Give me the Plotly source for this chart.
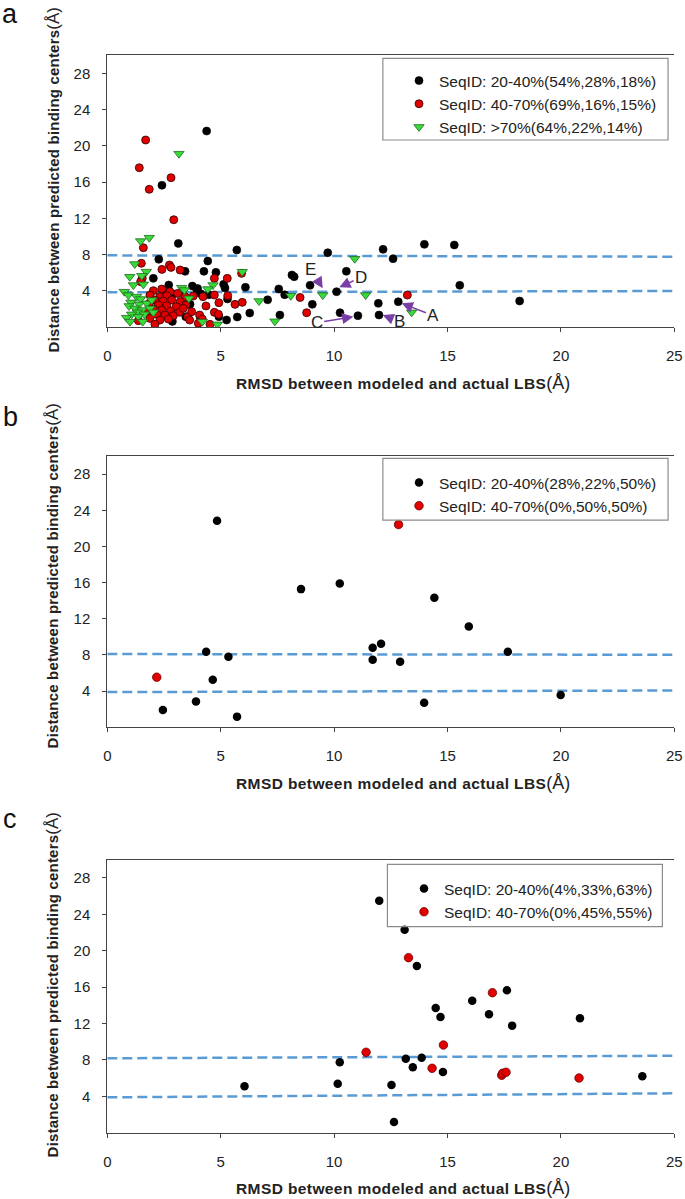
import plotly.graph_objects as go

FONT = "Liberation Sans, Arial, sans-serif"

# ---------------- Panel a data ----------------
a_black_x = [4.38, 2.41, 3.13, 5.71, 2.27, 4.43, 3.43, 4.26, 4.79, 2.03, 2.71, 3.75, 3.95, 5.13, 6.09,
             2.91, 3.30, 4.12, 3.98, 4.48, 5.19, 5.30, 3.65, 2.62, 3.46, 2.87, 4.09, 4.92, 5.26, 5.73,
             6.28, 7.07, 7.56, 7.82, 8.14, 8.24, 8.94, 9.04, 7.61, 9.72, 10.54, 10.11, 10.26, 11.05,
             12.16, 13.98, 15.30, 12.60, 15.54, 11.95, 12.83, 11.98, 18.18]
a_black_y = [21.63, 15.64, 9.23, 8.50, 7.47, 7.28, 6.14, 6.14, 6.03, 5.37, 4.63, 4.52, 4.01, 4.71, 4.38,
             3.64, 3.90, 3.67, 4.25, 3.56, 4.30, 3.10, 2.51, 3.71, 1.14, 0.62, 1.14, 1.14, 0.77, 1.10,
             1.54, 3.00, 4.20, 3.56, 5.74, 5.55, 4.60, 2.50, 1.32, 8.20, 6.15, 3.90, 1.58, 1.25,
             8.57, 9.12, 9.05, 7.54, 4.60, 2.61, 2.79, 1.32, 2.87]

a_red_x = [1.69, 1.41, 2.81, 1.85, 2.93, 1.59, 1.50, 2.74, 2.81, 2.41, 3.21, 1.54, 1.47, 2.40, 2.03,
           2.76, 3.10, 1.88, 2.32, 2.62, 3.43, 2.10, 2.47, 2.84, 3.21, 1.85, 2.25, 2.62, 3.03, 3.47,
           2.03, 2.40, 2.79, 3.18, 1.74, 2.18, 2.54, 2.91, 1.88, 2.32, 2.69, 1.37, 2.10, 3.35, 3.54,
           4.72, 5.29, 5.92, 3.79, 4.22, 4.72, 5.31, 5.63, 5.95, 4.92, 4.35, 4.72, 4.90, 4.07, 4.19,
           3.72, 3.63, 4.01, 4.53, 8.50, 8.79, 13.23]
a_red_y = [20.64, 17.58, 16.48, 15.20, 11.84, 8.75, 7.03, 6.84, 6.58, 6.36, 6.29, 5.37, 5.00, 4.19, 4.01,
           3.90, 3.71, 3.53, 3.35, 3.46, 3.35, 2.98, 2.87, 2.98, 2.80, 2.61, 2.43, 2.35, 2.24, 2.43,
           1.98, 1.87, 1.76, 1.62, 1.62, 1.40, 1.32, 1.25, 0.95, 0.77, 0.88, 0.70, 0.29, 2.06, 1.14,
           5.37, 5.37, 5.92, 3.42, 3.35, 3.53, 3.46, 2.50, 2.72, 2.68, 2.32, 1.62, 1.40, 1.32, 0.88,
           1.69, 0.77, 0.41, 0.29, 3.26, 1.58, 3.53]

a_green_x = [3.16, 1.47, 1.85, 1.21, 1.72, 0.99, 1.52, 1.15, 1.59, 0.75, 0.93, 1.29, 1.47, 1.04, 1.41,
             1.74, 0.96, 1.22, 1.53, 1.88, 2.03, 1.32, 1.63, 1.07, 0.85, 1.00, 1.37, 1.56, 3.28, 3.40,
             1.96, 4.66, 4.43, 3.60, 5.95, 6.69, 4.85, 4.19, 7.39, 8.09, 9.50, 10.91, 11.39, 13.42]
a_green_y = [19.13, 9.49, 9.86, 6.95, 6.11, 5.55, 5.66, 4.63, 4.71, 3.90, 3.53, 3.35, 3.09, 2.72, 2.50,
             2.61, 2.32, 2.06, 1.87, 2.06, 1.62, 1.62, 1.40, 1.40, 1.03, 0.59, 1.14, 0.59, 4.34, 4.08,
             2.98, 4.63, 4.19, 3.16, 6.10, 2.87, 0.29, 0.59, 0.63, 3.45, 3.53, 7.54, 3.53, 1.62]

# arrows with labels (panel a)
ann_labels = ["E", "D", "C", "B", "A"]
ann_text_x = [8.98, 11.19, 9.23, 12.90, 14.38]
ann_text_y = [6.37, 5.48, 0.47, 0.58, 1.25]
ann_head_x = [9.50, 10.23, 10.85, 12.14, 12.98]
ann_head_y = [4.27, 4.38, 1.14, 1.32, 2.61]

# ---------------- Panel b data ----------------
b_black_x = [2.45, 3.91, 4.36, 4.65, 4.84, 5.34, 5.72, 8.54, 10.25, 11.70, 11.70, 12.07, 12.91,
             13.97, 14.42, 15.94, 17.66, 19.99]
b_black_y = [1.91, 2.86, 8.36, 5.25, 22.83, 7.81, 1.18, 15.28, 15.90, 8.80, 7.48, 9.24, 7.26,
             2.72, 14.33, 11.14, 8.36, 3.56]
b_red_x = [2.18, 12.84]
b_red_y = [5.54, 22.42]

# ---------------- Panel c data ----------------
c_black_x = [6.05, 10.16, 10.25, 11.99, 12.53, 12.64, 13.11, 13.16, 13.47, 13.65, 13.86, 14.48,
             14.69, 14.80, 16.09, 16.83, 17.62, 17.85, 20.84, 23.59]
c_black_y = [5.10, 5.39, 7.74, 25.50, 5.25, 1.18, 22.30, 8.14, 7.19, 18.32, 8.25, 13.71,
             12.72, 6.67, 14.51, 13.01, 15.65, 11.77, 12.57, 6.20]
c_red_x = [11.41, 13.28, 14.32, 14.82, 16.98, 17.39, 17.43, 17.58, 20.80]
c_red_y = [8.84, 19.24, 7.08, 9.64, 15.39, 6.31, 6.53, 6.64, 6.01]

# threshold (dashed) lines: [value at x=0, value at x=25]
line_x = [0, 25]
a_upper = [7.91, 7.76]
a_lower = [3.83, 3.97]
b_upper = [8.10, 8.02]
b_lower = [3.89, 4.07]
c_upper = [8.18, 8.46]
c_lower = [3.89, 4.33]

# legend names
a_names = ["SeqID: 20-40%(54%,28%,18%)", "SeqID: 40-70%(69%,16%,15%)", "SeqID: >70%(64%,22%,14%)"]
b_names = ["SeqID: 20-40%(28%,22%,50%)", "SeqID: 40-70%(0%,50%,50%)"]
c_names = ["SeqID: 20-40%(4%,33%,63%)", "SeqID: 40-70%(0%,45%,55%)"]

x_ticks = [0, 5, 10, 15, 20, 25]
y_ticks = [4, 8, 12, 16, 20, 24, 28]

BLACK = "#000000"
RED = "#E00000"
GREEN = "#3AD93A"
DASH = "#5B9BD5"
PURPLE = "#7A3FA6"

W, H = 685, 1199
fig = go.Figure()

panels = [
    ("x", "y", a_upper, a_lower),
    ("x2", "y2", b_upper, b_lower),
    ("x3", "y3", c_upper, c_lower),
]

for xa, ya, up, lo in panels:
    for vals in (up, lo):
        fig.add_trace(go.Scatter(x=line_x, y=vals, mode="lines", xaxis=xa, yaxis=ya,
                                 line=dict(color=DASH, width=2.5, dash="10px,5px"),
                                 showlegend=False, hoverinfo="skip"))

# panel a
fig.add_trace(go.Scatter(x=a_black_x, y=a_black_y, mode="markers", name=a_names[0], xaxis="x", yaxis="y",
                         legend="legend",
                         marker=dict(color=BLACK, size=8, line=dict(color="#000", width=0.6))))
fig.add_trace(go.Scatter(x=a_red_x, y=a_red_y, mode="markers", name=a_names[1], xaxis="x", yaxis="y",
                         legend="legend",
                         marker=dict(color=RED, size=8, line=dict(color="#300000", width=0.8))))
fig.add_trace(go.Scatter(x=a_green_x, y=a_green_y, mode="markers", name=a_names[2], xaxis="x", yaxis="y",
                         legend="legend",
                         marker=dict(color=GREEN, size=9, symbol="triangle-down",
                                     line=dict(color="#1E6B1E", width=0.8))))
# panel b
fig.add_trace(go.Scatter(x=b_black_x, y=b_black_y, mode="markers", name=b_names[0], xaxis="x2", yaxis="y2",
                         legend="legend2", marker=dict(color=BLACK, size=8.5)))
fig.add_trace(go.Scatter(x=b_red_x, y=b_red_y, mode="markers", name=b_names[1], xaxis="x2", yaxis="y2",
                         legend="legend2",
                         marker=dict(color=RED, size=8.5, line=dict(color="#700000", width=0.8))))
# panel c
fig.add_trace(go.Scatter(x=c_black_x, y=c_black_y, mode="markers", name=c_names[0], xaxis="x3", yaxis="y3",
                         legend="legend3", marker=dict(color=BLACK, size=8.5)))
fig.add_trace(go.Scatter(x=c_red_x, y=c_red_y, mode="markers", name=c_names[1], xaxis="x3", yaxis="y3",
                         legend="legend3",
                         marker=dict(color=RED, size=8.5, line=dict(color="#700000", width=0.8))))

xdom = [107.3 / W, 674.3 / W]
ydoms = [[1 - 327.0 / H, 1 - 55.2 / H],
         [1 - 727.3 / H, 1 - 456.0 / H],
         [1 - 1132.7 / H, 1 - 859.8 / H]]

axis_common = dict(showgrid=False, zeroline=False, showline=True, linecolor="#444444", linewidth=1,
                   ticks="outside", ticklen=4, tickwidth=1, tickcolor="#444444", automargin=False,
                   tickfont=dict(family=FONT, size=15, color="#222222"))

layout = dict(width=W, height=H, margin=dict(l=0, r=0, t=0, b=0, pad=0, autoexpand=False),
              paper_bgcolor="white", plot_bgcolor="white", font=dict(family=FONT, color="#222222"))

for i, dom in enumerate(ydoms):
    sfx = "" if i == 0 else str(i + 1)
    layout["xaxis" + sfx] = dict(axis_common, domain=xdom, range=[0, 25], tickvals=x_ticks,
                                 anchor="y" + sfx, mirror=True, ticklabelstandoff=11)
    layout["yaxis" + sfx] = dict(axis_common, domain=dom, range=[0, 30], tickvals=y_ticks,
                                 anchor="x" + sfx, ticklabelstandoff=9)

leg_common = dict(bgcolor="rgba(0,0,0,0)", borderwidth=0, xanchor="left", yanchor="top",
                  font=dict(family=FONT, size=15.5, color="#222222"), itemsizing="trace")
layout["legend"] = dict(leg_common, x=399 / W, y=1 - 64 / H)
layout["legend2"] = dict(leg_common, x=399 / W, y=1 - 466 / H)
layout["legend3"] = dict(leg_common, x=404 / W, y=1 - 872 / H)

fig.update_layout(**layout)

# legend boxes
boxes = [("x", "y", 0.486, 0.989, 0.688, 0.9886),
         ("x2", "y2", 0.486, 0.989, 0.764, 0.9915),
         ("x3", "y3", 0.494, 0.979, 0.755, 0.9835)]
for xa, ya, x0, x1, y0, y1 in boxes:
    fig.add_shape(type="rect", xref=xa + " domain", yref=ya + " domain", x0=x0, x1=x1, y0=y0, y1=y1,
                  line=dict(color="#8C8C8C", width=1.2), fillcolor="rgba(0,0,0,0)", layer="above")

# arrows
for lab, tx, ty, hx, hy in zip(ann_labels, ann_text_x, ann_text_y, ann_head_x, ann_head_y):
    fig.add_annotation(x=hx, y=hy, ax=tx, ay=ty, xref="x", yref="y", axref="x", ayref="y",
                       text=lab, showarrow=True, arrowhead=2, arrowsize=1.5, arrowwidth=1.5,
                       arrowcolor=PURPLE, standoff=0, startstandoff=0,
                       font=dict(family=FONT, size=17, color="#222222"))

# axis titles
xt = ("<span style='letter-spacing:0.4px'><b>RMSD between modeled and actual LBS</b></span>"
      "<span style='font-size:18px'>(Å)</span>")
yt = ("<span style='letter-spacing:0.2px'><b>Distance between predicted binding centers</b></span>"
      "<span style='font-size:17px'>(Å)</span>")
xt_y = [1 - 383 / H, 1 - 783.3 / H, 1 - 1187.7 / H]
yt_y = [1 - 180 / H, 1 - 576 / H, 1 - 985 / H]
letters = ["a", "b", "c"]
let_y = [1 - 14 / H, 1 - 417 / H, 1 - 819 / H]
for i in range(3):
    fig.add_annotation(x=402.6 / W, y=xt_y[i], xref="paper", yref="paper", text=xt, showarrow=False,
                       font=dict(family=FONT, size=15.5, color="#222222"), xanchor="center", yanchor="middle")
    fig.add_annotation(x=53.4 / W, y=yt_y[i], xref="paper", yref="paper", text=yt, showarrow=False,
                       textangle=-90, font=dict(family=FONT, size=15, color="#222222"),
                       xanchor="center", yanchor="middle")
    fig.add_annotation(x=10 / W, y=let_y[i], xref="paper", yref="paper", text=letters[i], showarrow=False,
                       font=dict(family=FONT, size=27, color="#111111"), xanchor="center", yanchor="middle")

fig.write_html("out.html", config={"displayModeBar": False},
               post_script="document.body.style.margin='0px';")
